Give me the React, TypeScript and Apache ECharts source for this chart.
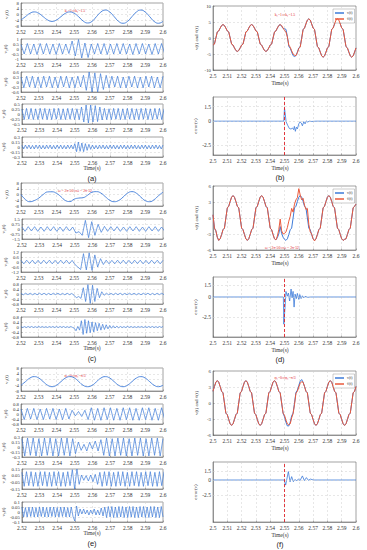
import React, { useEffect, useRef } from "react";
import * as echarts from "echarts";

// ---------------- data ----------------
const LEFT_X = [2.52, 2.6];
const RIGHT_X = [2.5, 2.6];
const X_STEP = 0.01;
const DISTURB_T = 2.55;

// sample steps (s) for each mode
const V1_DT = 0.0025;
const V2_DT = 0.0018;
const V3_DT = 0.0016;
const V4_DT = 0.0013;
const V5_DT = 0.001;
const V_DT = 0.001;

// (a) amplitude step
const A_V1 = [-3.8, -1.5, 0.8, 1.8, 0.8, -1.5, -3.8, -4.8, -3.8, -1.5, 0.8, 1.8, 0.8, -1.6, -4.5, -5.9, -4.8, -1.5, 1.7, 3.1, 1.7, -1.5, -4.8, -6.1, -4.8, -1.5, 1.7, 3.1, 1.7, -1.5, -4.8, -6.1, -4.8];
const A_V2 = [0.45, -0.5, 0.55, -0.5, 0.5, -0.55, 0.55, -0.5, 0.55, -0.5, 0.5, -0.55, 0.55, -0.5, 0.5, -0.45, 0.8, -0.7, 0.95, -0.9, 0.6, -0.85, 0.5, -0.5, 0.55, -0.5, 0.55, -0.55, 0.5, -0.5, 0.55, -0.5, 0.55, -0.5, 0.5, -0.55, 0.55, -0.5, 0.55, -0.5, 0.5, -0.55, 0.55, -0.5, 0.55, -0.5];
const A_V3 = [0.3, -0.35, 0.35, -0.3, 0.35, -0.35, 0.3, -0.35, 0.35, -0.3, 0.35, -0.35, 0.3, -0.35, 0.35, -0.3, 0.35, -0.35, 0.3, -0.35, 0.35, -0.3, 0.4, -0.5, 0.6, -0.6, 0.55, -0.6, 0.5, -0.45, 0.4, -0.35, 0.35, -0.3, 0.35, -0.35, 0.3, -0.35, 0.35, -0.3, 0.35, -0.35, 0.3, -0.35, 0.35, -0.3, 0.35, -0.35, 0.3, -0.35, 0.35];
const A_V4 = [0.25, -0.28, 0.28, -0.26, 0.28, -0.28, 0.26, -0.28, 0.28, -0.26, 0.28, -0.28, 0.26, -0.28, 0.28, -0.26, 0.28, -0.28, 0.26, -0.28, 0.28, -0.26, 0.28, -0.28, 0.26, -0.28, 0.35, -0.4, 0.45, -0.45, 0.45, -0.4, 0.42, -0.38, 0.35, -0.3, 0.28, -0.28, 0.26, -0.28, 0.28, -0.26, 0.28, -0.28, 0.26, -0.28, 0.28, -0.26, 0.28, -0.28, 0.26, -0.28, 0.28, -0.26, 0.28, -0.28, 0.26, -0.28, 0.28, -0.26, 0.28, -0.28, 0.26];
const A_V5 = [0.05, -0.06, 0.06, -0.05, 0.06, -0.06, 0.05, -0.06, 0.06, -0.05, 0.06, -0.06, 0.05, -0.06, 0.06, -0.05, 0.06, -0.06, 0.05, -0.06, 0.06, -0.05, 0.06, -0.06, 0.05, -0.06, 0.06, -0.05, 0.06, -0.06, 0.1, -0.14, 0.15, -0.13, 0.12, -0.14, 0.1, -0.1, 0.08, -0.07, 0.06, -0.06, 0.05, -0.06, 0.06, -0.05, 0.06, -0.06, 0.05, -0.06, 0.06, -0.05, 0.06, -0.06, 0.05, -0.06, 0.06, -0.05, 0.06, -0.06, 0.05, -0.06, 0.06, -0.05, 0.06, -0.06, 0.05, -0.06, 0.06, -0.05, 0.06, -0.06, 0.05, -0.06, 0.06, -0.05, 0.06, -0.06, 0.05, -0.06, 0.06];

// (c) frequency step
const C_V1 = [0, -3.5, -5, -4.2, -2.5, 0, 1.8, 1.9, 0.8, -1.5, -4.2, -4.9, -3.2, -2.5, -2.2, -0.5, 1.6, 2.0, 1.0, -1.5, -4.0, -5.0, -4.2, -1.8, 0.9, 2.0, 0.9, -1.8, -4.3, -5.0, -3.6, -0.8, 1.6];
const C_V2 = [0.3, -0.35, 0.35, -0.3, 0.35, -0.35, 0.3, -0.35, 0.35, -0.3, 0.35, -0.35, 0.3, -0.35, 0.35, -0.3, 0.3, -0.6, -0.4, -0.95, 1.3, -1.3, 1.1, -0.95, 0.7, -0.5, 0.4, -0.35, 0.35, -0.3, 0.35, -0.35, 0.3, -0.35, 0.35, -0.3, 0.35, -0.35, 0.3, -0.35, 0.35, -0.3, 0.35, -0.35, 0.3, -0.35];
const C_V3 = [0.2, -0.22, 0.22, -0.2, 0.22, -0.22, 0.2, -0.22, 0.22, -0.2, 0.22, -0.22, 0.2, -0.22, 0.22, -0.2, 0.22, -0.22, 0.2, -0.3, -0.6, -0.9, 1.0, -0.95, 1.1, -1.0, 0.85, -0.6, 0.4, -0.3, 0.22, -0.22, 0.2, -0.22, 0.22, -0.2, 0.22, -0.22, 0.2, -0.22, 0.22, -0.2, 0.22, -0.22, 0.2, -0.22, 0.22, -0.2, 0.22, -0.22, 0.2];
const C_V4 = [0.05, -0.06, 0.06, -0.05, 0.06, -0.06, 0.05, -0.06, 0.06, -0.05, 0.06, -0.06, 0.05, -0.06, 0.06, -0.05, 0.06, -0.06, 0.05, -0.06, 0.06, -0.05, 0.04, -0.1, -0.3, -0.2, -0.35, 0.5, -0.6, 0.75, -0.75, 0.7, -0.6, 0.45, -0.3, 0.18, -0.1, 0.06, -0.06, 0.05, -0.06, 0.06, -0.05, 0.06, -0.06, 0.05, -0.06, 0.06, -0.05, 0.06, -0.06, 0.05, -0.06, 0.06, -0.05, 0.06, -0.06, 0.05, -0.06, 0.06, -0.05, 0.06, -0.06];
const C_V5 = [0.04, -0.04, 0.03, -0.04, 0.04, -0.03, 0.04, -0.04, 0.03, -0.04, 0.04, -0.03, 0.04, -0.04, 0.03, -0.04, 0.04, -0.03, 0.04, -0.04, 0.03, -0.04, 0.04, -0.03, 0.04, -0.04, 0.03, -0.04, 0.04, -0.03, -0.1, -0.3, 0.05, -0.25, 0.5, -0.6, 0.6, -0.5, 0.5, -0.45, 0.4, -0.4, 0.35, -0.3, 0.3, -0.25, 0.22, -0.2, 0.18, -0.15, 0.12, -0.1, 0.1, -0.08, 0.07, -0.06, 0.04, -0.04, 0.03, -0.04, 0.04, -0.03, 0.04, -0.04, 0.03, -0.04, 0.04, -0.03, 0.04, -0.04, 0.03, -0.04, 0.04, -0.03, 0.04, -0.04, 0.03, -0.04, 0.04, -0.03, 0.04];

// (e) phase step
const E_V1 = [-4.0, -1.5, 1.0, 2.0, 1.0, -1.5, -4.0, -5.0, -4.0, -1.5, 1.0, 2.0, 1.1, -1.4, -4.0, -5.0, -4.1, -1.6, 1.0, 2.0, 1.0, -1.5, -4.0, -5.0, -4.0, -1.5, 1.0, 2.0, 1.0, -1.5, -4.0, -5.0, -4.0];
const E_V2 = [0.4, -0.45, 0.45, -0.4, 0.45, -0.45, 0.4, -0.45, 0.45, -0.4, 0.45, -0.45, 0.4, -0.45, 0.45, -0.4, 0.3, -0.15, 0.2, -0.2, 0.3, -0.45, 0.5, -0.5, 0.45, -0.5, 0.5, -0.45, 0.5, -0.5, 0.45, -0.5, 0.5, -0.45, 0.5, -0.5, 0.45, -0.5, 0.5, -0.45, 0.5, -0.5, 0.45, -0.5, 0.5, -0.45];
const E_V3 = [0.25, -0.27, 0.27, -0.25, 0.27, -0.27, 0.25, -0.27, 0.27, -0.25, 0.27, -0.27, 0.25, -0.27, 0.27, -0.25, 0.27, -0.27, 0.25, -0.2, 0.15, -0.1, 0.08, -0.12, 0.14, -0.06, 0.18, -0.12, 0.22, -0.25, 0.27, -0.27, 0.25, -0.27, 0.27, -0.25, 0.27, -0.27, 0.25, -0.27, 0.27, -0.25, 0.27, -0.27, 0.25, -0.27, 0.27, -0.25, 0.27, -0.27, 0.25];
const E_V4 = [0.1, -0.11, 0.11, -0.1, 0.11, -0.11, 0.1, -0.11, 0.11, -0.1, 0.11, -0.11, 0.1, -0.11, 0.11, -0.1, 0.11, -0.11, 0.1, -0.11, 0.11, -0.1, 0.14, -0.15, 0.15, -0.08, 0.06, -0.02, 0.05, -0.03, 0.06, -0.04, 0.07, -0.08, 0.1, -0.11, 0.11, -0.1, 0.11, -0.11, 0.1, -0.11, 0.11, -0.1, 0.11, -0.11, 0.1, -0.11, 0.11, -0.1, 0.11, -0.11, 0.1, -0.11, 0.11, -0.1, 0.11, -0.11, 0.1, -0.11, 0.11, -0.1, 0.11];
const E_V5 = [0.05, -0.05, 0.045, -0.05, 0.05, -0.045, 0.05, -0.05, 0.045, -0.05, 0.05, -0.045, 0.05, -0.05, 0.045, -0.05, 0.05, -0.045, 0.05, -0.05, 0.045, -0.05, 0.05, -0.045, 0.05, -0.05, 0.045, -0.05, 0.05, -0.045, -0.09, 0.06, -0.04, 0.03, -0.02, 0.03, -0.02, 0.02, -0.03, 0.02, -0.02, 0.03, -0.03, 0.02, -0.03, 0.04, -0.04, 0.05, -0.055, 0.055, -0.05, 0.055, -0.055, 0.05, -0.055, 0.055, -0.05, 0.055, -0.055, 0.05, -0.055, 0.055, -0.05, 0.055, -0.055, 0.05, -0.055, 0.055, -0.05, 0.055, -0.055, 0.05, -0.055, 0.055, -0.05, 0.055, -0.055, 0.05, -0.055, 0.055, -0.05];

// (b) v(t), v̂(t)
const B_V = [-2.2, -1.9, 0, 1.9, 2.2, 3.1, 3.9, 4.2, 3.9, 3.1, 2.2, 1.9, 0, -1.9, -2.2, -3.1, -3.9, -4.2, -3.9, -3.1, -2.2, -1.9, 0, 1.9, 2.2, 3.1, 3.9, 4.2, 3.9, 3.1, 2.2, 1.9, 0, -1.9, -2.2, -3.1, -3.9, -4.2, -3.9, -3.1, -2.2, -1.9, 0, 1.9, 2.2, 3.1, 3.9, 4.2, 3.6, 3.0, 2.9, 2.7, 0.5, -2.6, -3.2, -4.4, -5.5, -5.8, -5.5, -4.4, -3.1, -2.7, 0, 2.7, 3.1, 4.4, 5.6, 6.0, 5.6, 4.4, 3.1, 2.7, 0, -2.7, -3.1, -4.4, -5.6, -6.0, -5.6, -4.4, -3.1, -2.7, 0, 2.7, 3.1, 4.4, 5.6, 6.0, 5.6, 4.4, 3.1, 2.7, 0, -2.7, -3.1, -4.4, -5.6, -6.0, -5.6, -4.4, -3.1];
const B_VH = [-2.2, -1.9, 0, 1.9, 2.2, 3.1, 3.9, 4.2, 3.9, 3.1, 2.2, 1.9, 0, -1.9, -2.2, -3.1, -3.9, -4.2, -3.9, -3.1, -2.2, -1.9, 0, 1.9, 2.2, 3.1, 3.9, 4.2, 3.9, 3.1, 2.2, 1.9, 0, -1.9, -2.2, -3.1, -3.9, -4.2, -3.9, -3.1, -2.2, -1.9, 0, 1.9, 2.2, 3.1, 3.9, 4.2, 3.9, 3.1, 2.4, 1.9, 0.3, -2.2, -2.9, -4.0, -5.0, -5.4, -5.5, -4.6, -3.3, -2.8, -0.2, 2.6, 3.1, 4.4, 5.6, 6.0, 5.6, 4.4, 3.1, 2.7, 0, -2.7, -3.1, -4.4, -5.6, -6.0, -5.6, -4.4, -3.1, -2.7, 0, 2.7, 3.1, 4.4, 5.6, 6.0, 5.6, 4.4, 3.1, 2.7, 0, -2.7, -3.1, -4.4, -5.6, -6.0, -5.6, -4.4, -3.1];
// (d)
const D_V = [0.6, -1.9, -2.4, -3.6, -4.2, -3.9, -3.1, -2.2, -1.9, 0, 1.9, 2.2, 3.1, 3.9, 4.2, 3.9, 3.1, 2.2, 1.9, 0, -1.9, -2.2, -3.1, -3.9, -4.2, -3.9, -3.1, -2.2, -1.9, 0, 1.9, 2.2, 3.1, 3.9, 4.2, 3.9, 3.1, 2.2, 1.9, 0, -1.9, -2.2, -3.1, -3.9, -4.1, -3.7, -3.0, -1.6, -2.9, -3.6, -4.0, -4.2, -3.9, -3.1, -2.2, -1.9, 0, 1.9, 2.2, 3.1, 3.9, 4.2, 3.9, 3.1, 2.2, 1.9, 0, -1.9, -2.2, -3.1, -3.9, -4.2, -3.9, -3.1, -2.2, -1.9, 0, 1.9, 2.2, 3.1, 3.9, 4.2, 3.9, 3.1, 2.2, 1.9, 0, -1.9, -2.2, -3.1, -3.9, -4.2, -4.0, -3.9, -3.1, -2.2, -1.9, 0, 1.9, 2.2, 2.6];
const D_VH = [0.6, -1.9, -2.4, -3.6, -4.2, -3.9, -3.1, -2.2, -1.9, 0, 1.9, 2.2, 3.1, 3.9, 4.2, 3.9, 3.1, 2.2, 1.9, 0, -1.9, -2.2, -3.1, -3.9, -4.2, -3.9, -3.1, -2.2, -1.9, 0, 1.9, 2.2, 3.1, 3.9, 4.2, 3.9, 3.1, 2.2, 1.9, 0, -1.9, -2.2, -3.1, -3.9, -4.1, -3.4, -2.2, -0.2, -2.4, -3.0, -2.9, -2.6, -1.8, -0.6, 0.3, 1.8, 1.1, 2.6, 3.4, 3.8, 5.5, 4.3, 3.4, 3.7, 2.4, 1.6, 1.8, -1.2, -2.6, -3.0, -3.9, -4.3, -3.9, -3.1, -2.2, -1.9, 0, 1.9, 2.2, 3.1, 3.9, 4.2, 3.9, 3.1, 2.2, 1.9, 0, -1.9, -2.2, -3.1, -3.9, -4.2, -4.0, -3.9, -3.1, -2.2, -1.9, 0, 1.9, 2.2, 2.6];
// (f)
const F_V = [2.2, 3.1, 3.9, 4.2, 3.9, 3.1, 2.2, 1.9, 0, -1.9, -2.2, -3.1, -3.9, -4.2, -3.9, -3.1, -2.2, -1.9, 0, 1.9, 2.2, 3.1, 3.9, 4.2, 3.9, 3.1, 2.2, 1.9, 0, -1.9, -2.2, -3.1, -3.9, -4.2, -3.9, -3.1, -2.2, -1.9, 0, 1.9, 2.2, 3.1, 3.9, 4.2, 3.9, 3.1, 2.2, 1.9, 0, -1.9, -2.6, -3.6, -4.3, -4.3, -3.6, -2.4, -1.9, 0, 2.0, 2.4, 3.3, 4.1, 4.4, 3.9, 3.1, 2.2, 1.9, 0, -1.9, -2.2, -3.1, -3.9, -4.2, -3.9, -3.1, -2.2, -1.9, 0, 1.9, 2.2, 3.1, 3.9, 4.2, 3.9, 3.1, 2.2, 1.9, 0, -1.9, -2.2, -3.1, -3.9, -4.2, -3.9, -3.1, -2.2, -1.9, 0, 1.9, 2.2, 3.1];
const F_VH = [2.2, 3.1, 3.9, 4.2, 3.9, 3.1, 2.2, 1.9, 0, -1.9, -2.2, -3.1, -3.9, -4.2, -3.9, -3.1, -2.2, -1.9, 0, 1.9, 2.2, 3.1, 3.9, 4.2, 3.9, 3.1, 2.2, 1.9, 0, -1.9, -2.2, -3.1, -3.9, -4.2, -3.9, -3.1, -2.2, -1.9, 0, 1.9, 2.2, 3.1, 3.9, 4.2, 3.9, 3.1, 2.2, 1.9, 0, -1.9, -2.3, -3.2, -3.9, -4.1, -3.9, -2.8, -2.0, -0.3, 1.8, 2.2, 3.0, 3.7, 4.0, 3.9, 3.1, 2.2, 1.9, 0, -1.9, -2.2, -3.1, -3.9, -4.2, -3.9, -3.1, -2.2, -1.9, 0, 1.9, 2.2, 3.1, 3.9, 4.2, 3.9, 3.1, 2.2, 1.9, 0, -1.9, -2.2, -3.1, -3.9, -4.2, -3.9, -3.1, -2.2, -1.9, 0, 1.9, 2.2, 3.1];

// tracking errors [time, error]
const ERR_B = [[2.5, 0], [2.5495, 0], [2.55, 1.35], [2.5504, 0.9], [2.5511, -0.05], [2.5522, -0.42], [2.5534, -0.76], [2.5546, -0.82], [2.5555, -0.7], [2.5564, -0.88], [2.5569, -0.54], [2.5576, -1.05], [2.5583, -0.62], [2.559, -0.8], [2.56, -0.28], [2.5609, -0.08], [2.5618, -0.2], [2.5625, -0.48], [2.5635, -0.05], [2.5644, -0.28], [2.5653, 0.03], [2.5663, -0.1], [2.5672, 0], [2.5691, -0.03], [2.572, 0], [2.6, 0]];
const ERR_D = [[2.5, 0], [2.5492, 0], [2.5495, -3.4], [2.5505, -1.0], [2.551, 0.7], [2.552, 0.1], [2.5527, 0.5], [2.5536, -0.5], [2.5546, 1.0], [2.5553, -0.1], [2.556, 0.7], [2.5567, -1.26], [2.5574, 0.36], [2.5583, -0.2], [2.559, 0.45], [2.56, -0.3], [2.5607, 0.3], [2.5616, -0.2], [2.5625, 0.15], [2.5635, -0.1], [2.5644, 0.08], [2.5663, -0.04], [2.568, 0], [2.6, 0]];
const ERR_F = [[2.5, 0], [2.5498, 0], [2.5508, -0.85], [2.5527, 1.4], [2.5539, -0.3], [2.555, 0.56], [2.5562, -0.28], [2.5574, 0.1], [2.5585, -0.17], [2.5597, 0.17], [2.5609, -0.1], [2.5625, 0.68], [2.5639, -0.1], [2.5653, 0.4], [2.5667, -0.05], [2.5681, 0.15], [2.5703, 0], [2.6, 0]];

const ERR_TICKS = [1.5, 0, -2.5];

// y-axis ranges [min, max, interval] for the left modes
const A_Y = [[-8, 8, 4], [-1, 1, 0.5], [-0.6, 0.6, 0.3], [-0.5, 0.5, 0.25], [-0.3, 0.3, 0.15]];
const C_Y = [[-8, 8, 4], [-1.5, 1.5, 0.75], [-1.2, 1.2, 0.6], [-0.8, 0.8, 0.4], [-0.8, 0.8, 0.4]];
const E_Y = [[-8, 8, 4], [-0.8, 0.8, 0.4], [-0.3, 0.3, 0.15], [-0.15, 0.15, 0.1], [-0.1, 0.1, 0.05]];
const RIGHT_TOP_Y = [[-10, 10, 5], [-6, 6, 3], [-6, 6, 3]];
const ERR_Y = [[-3.5, 2.5], [-5, 2.5], [-7, 3]];

const MODE_NAMES = ["v\u2081(t)", "v\u2082(t)", "v\u2083(t)", "v\u2084(t)", "v\u2085(t)"];
const ANNOT = ["k\u2081=1\u21d2k\u2081=1.5", "\u03c9 = 2\u03c0\u00b750\u21d2\u03c9 = 2\u03c0\u00b752", "\u03c6\u2081=0\u21d2\u03c6\u2081=\u03c0/3"];
const PANEL_LETTERS_L = ["(a)", "(c)", "(e)"];
const PANEL_LETTERS_R = ["(b)", "(d)", "(f)"];
const V_NAME = "v(t)";
const VH_NAME = "v\u0302(t)";

// ---------------- layout / style ----------------
const SERIF = "'Liberation Serif', 'DejaVu Serif', serif";
const SANS = "'Liberation Sans', Arial, sans-serif";
const BLUE = "#3d7bd9";
const RED = "#ea5a3c";
const AXIS_C = "#666";
const GRID_C = "#cfcfcf";
const X_TICK_FS = 5.5;
const Y_TICK_FS = 4.8;

const LX = 21, LW = 142;
const RX = 213, RW = 143;
const LEFT_OFF = [0, 180, 365];
const LEFT_ROWS = [[3, 23], [39, 20], [72, 20], [104, 20], [137, 20]];
const RIGHT_TOP = [[6, 64], [186, 64], [371, 64]];
const RIGHT_BOT = [[97, 58], [277, 60], [462, 60]];

const pts = (t0, dt, vals) => vals.map((v, i) => [Math.round((t0 + i * dt) * 1e6) / 1e6, v]);
const fmt = (v) => String(Math.round(v * 1000) / 1000);

function buildOption() {
  const grid = [];
  const xAxis = [];
  const yAxis = [];
  const series = [];
  const graphic = [];

  const addPlot = (p) => {
    const i = grid.length;
    grid.push({ left: p.l, top: p.t, width: p.w, height: p.h, show: true, borderColor: AXIS_C, borderWidth: 0.6, backgroundColor: "#fff" });
    xAxis.push({
      type: "value", gridIndex: i, min: p.x[0], max: p.x[1], interval: X_STEP,
      axisLine: { show: true, onZero: false, lineStyle: { color: AXIS_C, width: 0.6 } },
      axisTick: { show: true, inside: true, length: 1.5, lineStyle: { color: AXIS_C, width: 0.5 } },
      axisLabel: { fontSize: X_TICK_FS, lineHeight: 5, margin: 3, color: "#333", fontFamily: SERIF, formatter: fmt, showMinLabel: true, showMaxLabel: true, hideOverlap: false },
      splitLine: { show: true, lineStyle: { type: [2, 2], color: GRID_C, width: 0.5 } },
    });
    const err = !!p.err;
    yAxis.push({
      type: "value", gridIndex: i, min: p.y[0], max: p.y[1], interval: p.y[2],
      name: p.yName, nameLocation: "middle", nameGap: p.nameGap, nameRotate: 90,
      nameTextStyle: { fontSize: p.nameSize || 5, fontFamily: SERIF, color: "#333" },
      axisLine: { show: true, onZero: false, lineStyle: { color: AXIS_C, width: 0.6 } },
      axisTick: { show: !err, inside: true, length: 1.5, lineStyle: { color: AXIS_C, width: 0.5 } },
      axisLabel: {
        fontSize: err ? 5.5 : Y_TICK_FS, lineHeight: err ? 6 : 3.5, margin: 2, color: "#333", fontFamily: SERIF, hideOverlap: false,
        showMinLabel: true, showMaxLabel: true,
        formatter: err ? (v) => (ERR_TICKS.some((t) => Math.abs(t - v) < 1e-6) ? fmt(v) : "") : fmt,
      },
      splitLine: { show: !err, lineStyle: { type: [2, 2], color: GRID_C, width: 0.5 } },
    });
    p.lines.forEach((ln, j) => {
      const s: any = {
        type: "line", xAxisIndex: i, yAxisIndex: i, name: ln.name, data: ln.data,
        showSymbol: false, symbol: "none", smooth: ln.smooth ? 0.5 : false, silent: true, clip: true,
        lineStyle: { color: ln.color, width: ln.width || 0.8 }, itemStyle: { color: ln.color },
        z: 3 + j,
      };
      if (err && j === 0) {
        s.markLine = {
          silent: true, symbol: ["none", "none"], label: { show: false }, animation: false,
          data: [
            ...ERR_TICKS.map((t) => ({ yAxis: t, lineStyle: { type: [2, 2], color: GRID_C, width: 0.5 } })),
            { xAxis: DISTURB_T, lineStyle: { type: [3, 2], color: "#e0242a", width: 0.9 } },
          ],
        };
      }
      series.push(s);
    });
  };

  const leftSets = [
    { sig: [A_V1, A_V2, A_V3, A_V4, A_V5], ys: A_Y },
    { sig: [C_V1, C_V2, C_V3, C_V4, C_V5], ys: C_Y },
    { sig: [E_V1, E_V2, E_V3, E_V4, E_V5], ys: E_Y },
  ];
  const dts = [V1_DT, V2_DT, V3_DT, V4_DT, V5_DT];
  leftSets.forEach((set, pi) => {
    const off = LEFT_OFF[pi];
    set.sig.forEach((vals, m) => {
      addPlot({
        l: LX, t: off + LEFT_ROWS[m][0], w: LW, h: LEFT_ROWS[m][1],
        x: LEFT_X, y: set.ys[m], yName: MODE_NAMES[m], nameGap: 12,
        lines: [{ data: pts(LEFT_X[0], dts[m], vals), color: BLUE, smooth: m === 0, width: m === 0 ? 0.9 : 0.7 }],
      });
    });
    graphic.push({ type: "text", x: LX + LW / 2, y: off + 168, style: { text: "Time(s)", fontSize: 5.5, fontFamily: SERIF, fill: "#333", textAlign: "center", textVerticalAlign: "middle" } });
    graphic.push({ type: "text", x: LX + LW / 2, y: off + 178, style: { text: PANEL_LETTERS_L[pi], fontSize: 7.5, fontFamily: SANS, fill: "#222", textAlign: "center", textVerticalAlign: "middle" } });
    graphic.push({ type: "text", x: 75, y: off + 11, style: { text: ANNOT[pi], fontSize: 3.8, fontFamily: SERIF, fill: "#e0242a", textAlign: "center", textVerticalAlign: "middle" } });
  });

  const rightSets = [
    { v: B_V, vh: B_VH, err: ERR_B },
    { v: D_V, vh: D_VH, err: ERR_D },
    { v: F_V, vh: F_VH, err: ERR_F },
  ];
  const annotPos = [[285, 15], [282, 248], [285, 378]];
  const legends = [];
  rightSets.forEach((set, pi) => {
    const [tt, th] = RIGHT_TOP[pi];
    const [bt, bh] = RIGHT_BOT[pi];
    const ty = RIGHT_TOP_Y[pi];
    addPlot({
      l: RX, t: tt, w: RW, h: th, x: RIGHT_X, y: ty, yName: "v(t) and v\u0302(t)", nameGap: 14,
      lines: [
        { name: V_NAME, data: pts(RIGHT_X[0], V_DT, set.v), color: BLUE, width: 1 },
        { name: VH_NAME, data: pts(RIGHT_X[0], V_DT, set.vh), color: RED, width: 1 },
      ],
    });
    addPlot({
      l: RX, t: bt, w: RW, h: bh, x: RIGHT_X, y: [ERR_Y[pi][0], ERR_Y[pi][1], 0.5], yName: "error(v)", nameGap: 12, err: true,
      lines: [{ data: set.err, color: BLUE, width: 0.8 }],
    });
    legends.push({
      data: [V_NAME, VH_NAME], left: 333, top: tt + 3, orient: "vertical", icon: "rect",
      itemWidth: 9, itemHeight: 1.5, itemGap: 2, padding: [2, 2, 2, 2],
      textStyle: { fontSize: 3.8, fontFamily: SERIF, color: "#333", padding: [0, 0, 0, -2] },
      backgroundColor: "#fff", borderColor: "#999", borderWidth: 0.5, selectedMode: false,
    });
    graphic.push({ type: "text", x: 280, y: tt + th + 13, style: { text: "Time(s)", fontSize: 5.5, fontFamily: SERIF, fill: "#333", textAlign: "center", textVerticalAlign: "middle" } });
    graphic.push({ type: "text", x: 280, y: bt + bh + 13, style: { text: "Time(s)", fontSize: 5.5, fontFamily: SERIF, fill: "#333", textAlign: "center", textVerticalAlign: "middle" } });
    graphic.push({ type: "text", x: 280, y: bt + bh + 22, style: { text: PANEL_LETTERS_R[pi], fontSize: 7.5, fontFamily: SANS, fill: "#222", textAlign: "center", textVerticalAlign: "middle" } });
    graphic.push({ type: "text", x: annotPos[pi][0], y: annotPos[pi][1], style: { text: ANNOT[pi], fontSize: 3.8, fontFamily: SERIF, fill: "#e0242a", textAlign: "center", textVerticalAlign: "middle" } });
  });

  return {
    animation: false,
    backgroundColor: "#fff",
    grid, xAxis, yAxis, series, legend: legends, graphic,
  };
}

export default function App() {
  const ref = useRef(null);
  useEffect(() => {
    if (!ref.current) return;
    const chart = echarts.init(ref.current, null, { renderer: "svg" });
    chart.setOption(buildOption());
    return () => chart.dispose();
  }, []);
  return <div ref={ref} style={{ position: "absolute", left: 0, top: 0, width: 367, height: 550, background: "#fff" }} />;
}
